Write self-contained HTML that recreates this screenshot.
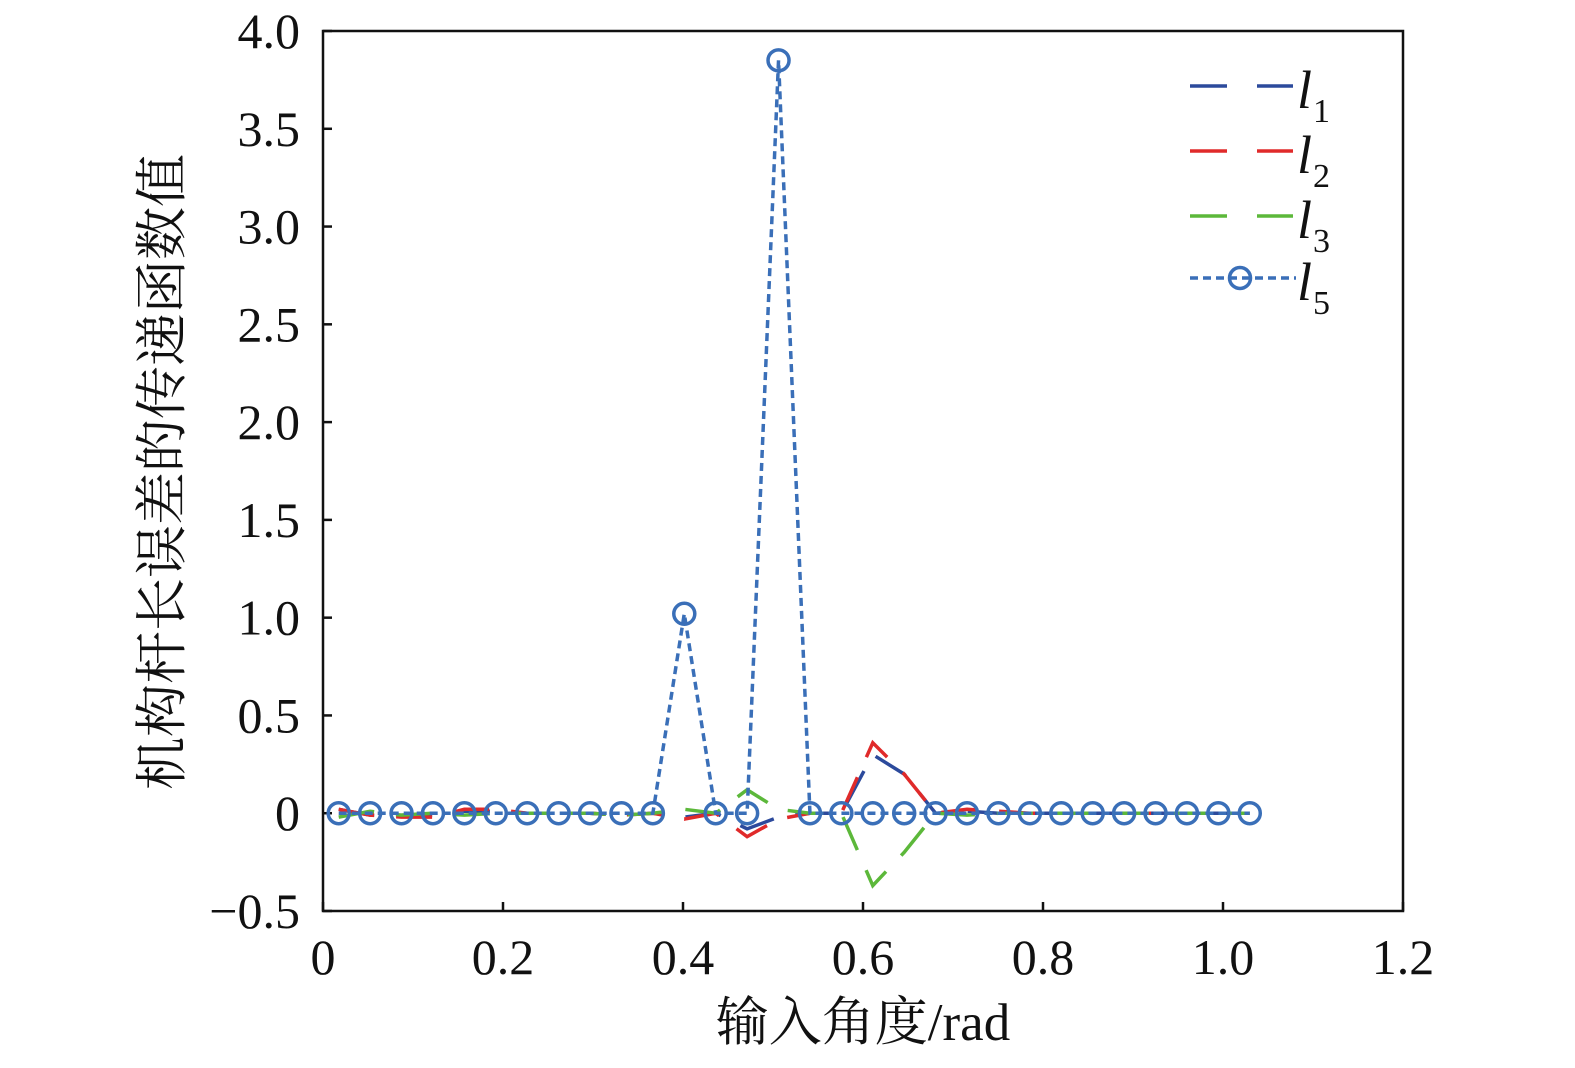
<!DOCTYPE html>
<html><head><meta charset="utf-8"><style>
body{margin:0;background:#fff;}
svg text{font-family:"Liberation Serif","Noto Serif CJK SC",serif;fill:#111;}
</style></head><body>
<svg id="chart" width="1575" height="1063" xmlns="http://www.w3.org/2000/svg">
<g id="axes"></g>
<g id="series"></g>
<g id="legend"></g>
<text transform="translate(180,472) rotate(-90)" text-anchor="middle" font-size="53">机构杆长误差的传递函数值</text>
<text x="863" y="1040" text-anchor="middle" font-size="53">输入角度/rad</text>
</svg>
<script>
const xTicks=[0,0.2,0.4,0.6,0.8,1.0,1.2];
const xTickLabels=["0","0.2","0.4","0.6","0.8","1.0","1.2"];
const yTicks=[-0.5,0,0.5,1.0,1.5,2.0,2.5,3.0,3.5,4.0];
const yTickLabels=["\u22120.5","0","0.5","1.0","1.5","2.0","2.5","3.0","3.5","4.0"];
const xStartDeg=1, xStepDeg=2, nPoints=30;
const l1=[0.02,-0.01,-0.01,-0.01,0.01,0.01,0,0,0,-0.01,0,-0.02,0,-0.08,-0.02,0,0,0.3,0.2,0,0.01,0,0,0,0,0,0,0,0,0];
const l2=[0.02,-0.01,-0.02,-0.02,0.02,0.02,0,0,0,-0.01,0,-0.03,0,-0.12,-0.03,0,0,0.36,0.2,0,0.02,0.01,0,0,0,0,0,0,0,0];
const l3=[-0.02,0.01,-0.01,0,-0.01,0,0,0,0,-0.01,0,0.02,0,0.12,0.02,0,0,-0.37,-0.2,0,-0.01,0,0,0,0,0,0,0,0,0];
const l5=[0,0,0,0,0,0,0,0,0,0,0,1.02,0,0,3.85,0,0,0,0,0,0,0,0,0,0,0,0,0,0,0];
const NS="http://www.w3.org/2000/svg";
const X0=323,X1=1403,Y0=911,Y1=31;
const sx=v=>X0+(v-0)/(1.2)*(X1-X0);
const sy=v=>Y0-(v+0.5)/4.5*(Y0-Y1);
const xs=[];for(let i=0;i<nPoints;i++)xs.push((xStartDeg+xStepDeg*i)*Math.PI/180);
function mk(tag,attrs,parent){const e=document.createElementNS(NS,tag);for(const k in attrs)e.setAttribute(k,attrs[k]);parent.appendChild(e);return e;}
const axes=document.getElementById('axes');
const frame=mk('rect',{x:X0,y:Y1,width:X1-X0,height:Y0-Y1,fill:'none',stroke:'#111','stroke-width':2.5},axes);


xTicks.forEach((t,i)=>{
 const l=mk('line',{x1:sx(t),x2:sx(t),y1:Y0,y2:Y0-9,stroke:'#111','stroke-width':2.5},axes);
 
 
 const tx=mk('text',{x:sx(t),y:974,'text-anchor':'middle','font-size':50},axes);tx.textContent=xTickLabels[i];
 
 
});
yTicks.forEach((t,i)=>{
 const l=mk('line',{x1:X0,x2:X0+9,y1:sy(t),y2:sy(t),stroke:'#111','stroke-width':2.5},axes);
 
 
 const tx=mk('text',{x:300,y:sy(t)+17,'text-anchor':'end','font-size':50},axes);tx.textContent=yTickLabels[i];
 
 
});
const series=document.getElementById('series');
function pts(arr){return arr.map((v,i)=>sx(xs[i])+','+sy(v)).join(' ');}
[[l1,'#2c4a9c','series-l1'],[l2,'#e02a2a','series-l2'],[l3,'#5cb83a','series-l3']].forEach(([a,c,n])=>{
 const p=mk('polyline',{points:pts(a),fill:'none',stroke:c,'stroke-width':3.5,'stroke-dasharray':'36 22'},series);
 
 
});
const p5=mk('polyline',{points:pts(l5),fill:'none',stroke:'#3a6fb8','stroke-width':3.5,'stroke-dasharray':'8 5'},series);


l5.forEach((v,i)=>{
 const c=mk('circle',{cx:sx(xs[i]),cy:sy(v),r:10.5,fill:'none',stroke:'#3a6fb8','stroke-width':3.5},series);
 
 
});
const lg=document.getElementById('legend');
const entries=[['#2c4a9c','1',86],['#e02a2a','2',151],['#5cb83a','3',216]];
entries.forEach(([c,s,y])=>{
 const l=mk('line',{x1:1190,x2:1293,y1:y,y2:y,stroke:c,'stroke-width':3.5,'stroke-dasharray':'37 30'},lg);
 
 
 const t=mk('text',{x:1297,y:y+22,'font-size':54,'font-style':'italic'},lg);t.textContent='l';
 
 
 const sub=mk('text',{x:1313,y:y+36,'font-size':34},lg);sub.textContent=s;
 
 
});
const l5l=mk('line',{x1:1190,x2:1296,y1:278,y2:278,stroke:'#3a6fb8','stroke-width':3.5,'stroke-dasharray':'8 5'},lg);


const l5c=mk('circle',{cx:1240,cy:278,r:10.5,fill:'none',stroke:'#3a6fb8','stroke-width':3.5},lg);


const t5=mk('text',{x:1297,y:300,'font-size':54,'font-style':'italic'},lg);t5.textContent='l';


const s5=mk('text',{x:1313,y:314,'font-size':34},lg);s5.textContent='5';


</script>
</body></html>
